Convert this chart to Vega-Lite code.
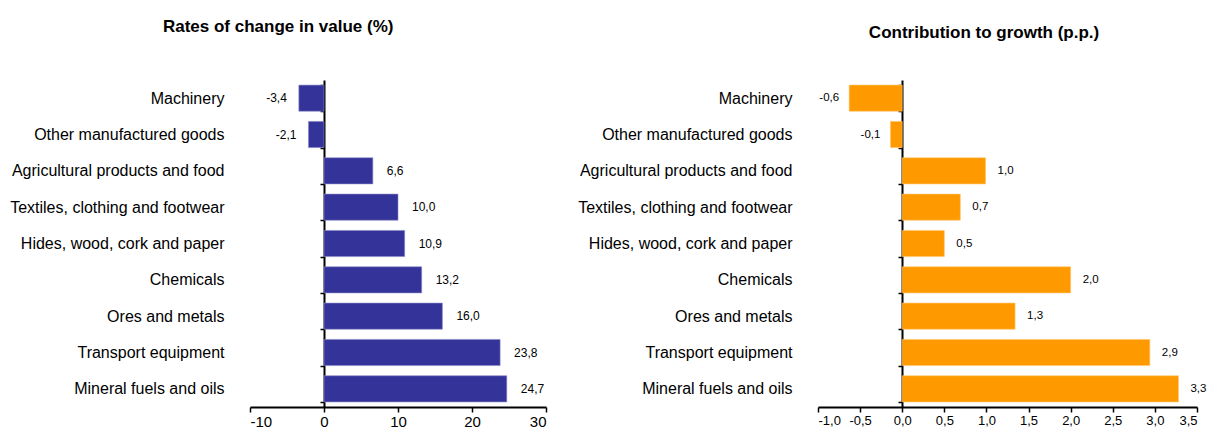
{
  "$schema": "https://vega.github.io/schema/vega-lite/v6.json",
  "padding": {"left": 9, "top": 18, "right": 0, "bottom": 0},
  "spacing": 30,
  "config": {
    "locale": {"number": {"decimal": ",", "thousands": ".", "grouping": [3], "currency": ["", ""], "minus": "-"}},
    "font": "Liberation Sans",
    "view": {"stroke": null},
    "axis": {"grid": false, "domainColor": "#000000", "tickColor": "#000000", "labelColor": "#000000", "domainWidth": 2, "tickWidth": 1.5, "labelFont": "Liberation Sans", "labelFontSize": 14, "labelLimit": 0, "title": null},
    "title": {"font": "Liberation Sans", "fontSize": 17, "fontWeight": "bold", "color": "#000000", "anchor": "middle", "frame": "bounds"}
  },
  "datasets": {
    "rates": [
      {"product": "Machinery", "value": -3.4},
      {"product": "Other manufactured goods", "value": -2.1},
      {"product": "Agricultural products and food", "value": 6.6},
      {"product": "Textiles, clothing and footwear", "value": 10.0},
      {"product": "Hides, wood, cork and paper", "value": 10.9},
      {"product": "Chemicals", "value": 13.2},
      {"product": "Ores and metals ", "value": 16.0},
      {"product": "Transport equipment", "value": 23.8},
      {"product": "Mineral fuels and oils", "value": 24.7}
    ],
    "contrib": [
      {"product": "Machinery", "value": -0.63},
      {"product": "Other manufactured goods", "value": -0.14},
      {"product": "Agricultural products and food", "value": 0.99},
      {"product": "Textiles, clothing and footwear", "value": 0.69},
      {"product": "Hides, wood, cork and paper", "value": 0.5},
      {"product": "Chemicals", "value": 2.0},
      {"product": "Ores and metals ", "value": 1.34},
      {"product": "Transport equipment", "value": 2.94},
      {"product": "Mineral fuels and oils", "value": 3.28}
    ]
  },
  "hconcat": [
    {
      "title": {"text": "Rates of change in value (%)", "offset": 36},
      "width": 296,
      "height": 327,
      "data": {"name": "rates"},
      "encoding": {
        "y": {"field": "product", "type": "nominal", "sort": null,
          "scale": {"paddingInner": 0.28, "paddingOuter": 0.14},
          "axis": {"offset": -74, "labelPadding": 96, "tickSize": 4, "tickBand": "extent", "domain": true, "labelFontSize": 16}},
        "x": {"field": "value", "type": "quantitative",
          "scale": {"domain": [-10, 30], "nice": false, "zero": false},
          "axis": {"values": [-10, 0, 10, 20, 30], "format": "d", "tickSize": 5, "labelPadding": 2, "labelFontSize": 15}}
      },
      "layer": [
        {"mark": {"type": "bar", "color": "#333399", "stroke": "#8c8cc8", "strokeWidth": 0.6}},
        {"transform": [{"filter": "datum.value >= 0"}],
          "mark": {"type": "text", "align": "left", "dx": 14, "fontSize": 12, "color": "#000000"},
          "encoding": {"text": {"field": "value", "type": "quantitative", "format": ".1f"}}},
        {"transform": [{"filter": "datum.value < 0"}],
          "mark": {"type": "text", "align": "right", "dx": -12, "fontSize": 12, "color": "#000000"},
          "encoding": {"text": {"field": "value", "type": "quantitative", "format": ".1f"}}}
      ]
    },
    {
      "title": {"text": "Contribution to growth (p.p.)", "offset": 30, "dx": 92},
      "width": 379,
      "height": 327,
      "data": {"name": "contrib"},
      "encoding": {
        "y": {"field": "product", "type": "nominal", "sort": null,
          "scale": {"paddingInner": 0.28, "paddingOuter": 0.14},
          "axis": {"offset": -84, "labelPadding": 106, "tickSize": 4, "tickBand": "extent", "domain": true, "labelFontSize": 16}},
        "x": {"field": "value", "type": "quantitative",
          "scale": {"domain": [-1, 3.5], "nice": false, "zero": false},
          "axis": {"values": [-1, -0.5, 0, 0.5, 1, 1.5, 2, 2.5, 3, 3.5], "format": ".1f", "tickSize": 5, "labelPadding": 2, "labelFontSize": 13}}
      },
      "layer": [
        {"mark": {"type": "bar", "color": "#FF9900", "stroke": "#ffc870", "strokeWidth": 0.6}},
        {"transform": [{"filter": "datum.value >= 0"}],
          "mark": {"type": "text", "align": "left", "dx": 12, "fontSize": 11.5, "color": "#000000"},
          "encoding": {"text": {"field": "value", "type": "quantitative", "format": ".1f"}}},
        {"transform": [{"filter": "datum.value < 0"}],
          "mark": {"type": "text", "align": "right", "dx": -10, "fontSize": 11.5, "color": "#000000"},
          "encoding": {"text": {"field": "value", "type": "quantitative", "format": ".1f"}}}
      ]
    }
  ]
}
